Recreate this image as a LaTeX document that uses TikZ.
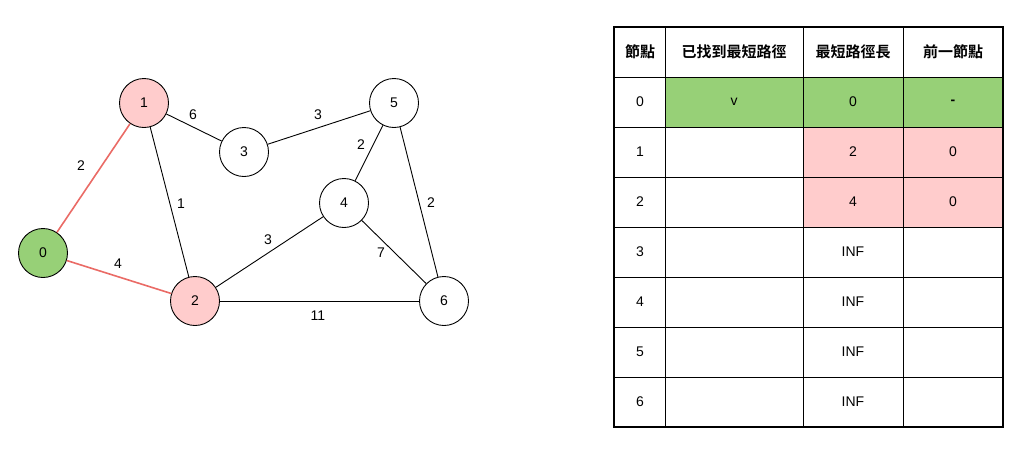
\documentclass[tikz,border=0pt]{standalone}
\usepackage{fontspec}
\setmainfont{Liberation Sans}
\newfontfamily\cjk{Noto Sans CJK TC}
\newfontfamily\cjkb{Noto Sans CJK TC Bold}
\definecolor{gfill}{HTML}{97D077}
\definecolor{pfill}{HTML}{FFCCCC}
\definecolor{redge}{HTML}{EA6B66}
\begin{document}
\begin{tikzpicture}[x=1pt,y=-1pt,
  vert/.style={circle,draw=black,line width=0.9pt,minimum size=49pt,inner sep=0pt,font=\fontsize{14}{16}\selectfont},
  edge/.style={line width=0.9pt,draw=black},
  redg/.style={line width=1.6pt,draw=redge},
  wlab/.style={font=\fontsize{14}{16}\selectfont,inner sep=0pt},
  cell/.style={font=\fontsize{14}{16}\selectfont,inner sep=0pt},
  head/.style={font=\cjkb\fontsize{15}{17}\selectfont,inner sep=0pt}]
\useasboundingbox (0,0) rectangle (1024,451);
% graph
\node[vert,fill=gfill] (n0) at (43,253) {0};
\node[vert,fill=pfill] (n1) at (144,103) {1};
\node[vert,fill=pfill] (n2) at (195,301) {2};
\node[vert,fill=white] (n3) at (244,152) {3};
\node[vert,fill=white] (n4) at (344,203) {4};
\node[vert,fill=white] (n5) at (394,103) {5};
\node[vert,fill=white] (n6) at (444,301) {6};
\draw[redg] (n0) -- (n1);
\draw[redg] (n0) -- (n2);
\draw[edge] (n1) -- (n3);
\draw[edge] (n1) -- (n2);
\draw[edge] (n3) -- (n5);
\draw[edge] (n5) -- (n4);
\draw[edge] (n5) -- (n6);
\draw[edge] (n2) -- (n4);
\draw[edge] (n4) -- (n6);
\draw[edge] (n2) -- (n6);
\node[wlab] (w01) at (81,166) {2};
\node[wlab] (w02) at (118,264) {4};
\node[wlab] (w13) at (193,115) {6};
\node[wlab] (w12) at (181,204) {1};
\node[wlab] (w35) at (318,115) {3};
\node[wlab] (w45) at (361,145) {2};
\node[wlab] (w56) at (431,203) {2};
\node[wlab] (w24) at (268,240) {3};
\node[wlab] (w46) at (381,253) {7};
\node[wlab] (w26) at (318,316) {11};
% table fills
\fill[gfill] (665,77) rectangle (1003,127);
\fill[pfill] (803,127) rectangle (1003,227);
% grid
\foreach \y in {77,127,177,227,277,327,377} \draw[line width=0.9pt] (614,\y) -- (1003,\y);
\foreach \x in {665,803,903} \draw[line width=0.9pt] (\x,27) -- (\x,427);
\draw[line width=2pt] (614,27) rectangle (1003,427);
% headers
\node[head] (h0) at (640,52) {節點};
\node[head] (h1) at (734,52) {已找到最短路徑};
\node[head] (h2) at (853,52) {最短路徑長};
\node[head] (h3) at (953,52) {前一節點};
% rows
\foreach \r/\y in {0/102,1/152,2/202,3/252,4/302,5/352,6/402} \node[cell] (r\r) at (640,\y) {\r};
\node[cell] (v0) at (734,102) {v};
\node[cell] (d0) at (853,102) {0};
\node[cell,font=\bfseries\fontsize{14}{16}\selectfont] (p0) at (953,102) {-};
\node[cell] (d1) at (853,152) {2};
\node[cell] (p1) at (953,152) {0};
\node[cell] (d2) at (853,202) {4};
\node[cell] (p2) at (953,202) {0};
\foreach \r/\y in {3/252,4/302,5/352,6/402} \node[cell] (d\r) at (853,\y) {INF};
\end{tikzpicture}
\end{document}
